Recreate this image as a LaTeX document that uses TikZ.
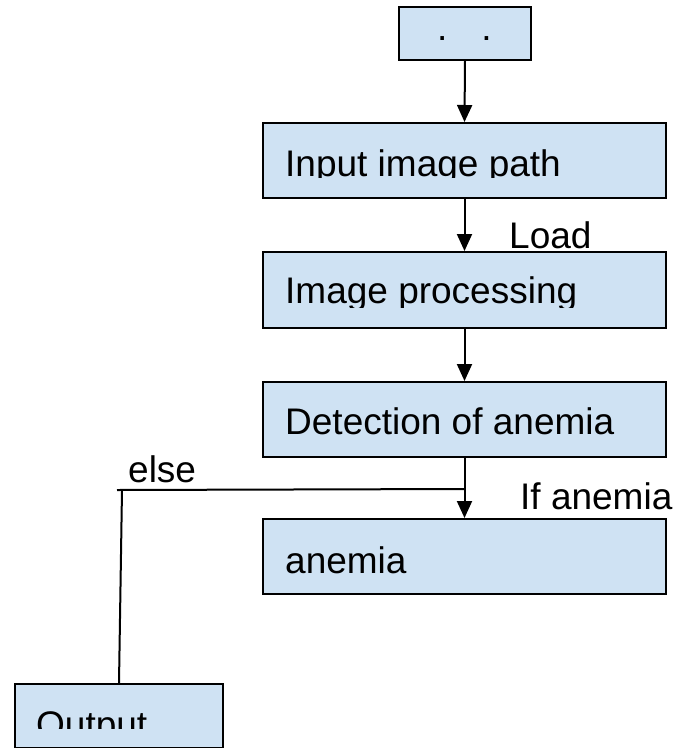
\documentclass[tikz,border=0pt]{standalone}
\usepackage{fontspec}
\setmainfont{Liberation Sans}
\usepackage{tikz}
\usetikzlibrary{arrows.meta}
\definecolor{boxblue}{RGB}{207,226,243}

\tikzset{
  stage/.style={rectangle, draw=black, line width=2pt, fill=boxblue, inner sep=0pt,
    anchor=north west, minimum width=403pt, minimum height=75pt},
  caption/.style={anchor=base west, inner sep=0pt, font=\fontsize{37}{40}\selectfont},
  flow/.style={line width=2pt, -{Triangle[length=17pt,width=15pt]}},
  wire/.style={line width=2pt}
}

\begin{document}
\begin{tikzpicture}[x=1pt, y=-1pt]
\useasboundingbox (0,0) rectangle (683,748);

% boxes of the pipeline
\node[stage, minimum width=132pt, minimum height=53pt] (start) at (398,6) {};
\node[stage] (input) at (262,122) {};
\node[stage, minimum height=76pt] (proc) at (262,251) {};
\node[stage] (detect) at (262,381) {};
\node[stage] (anemia) at (262,518) {};
\node[stage, minimum width=208pt, minimum height=64pt] (output) at (14,683) {};

% box texts (some are cut at the bottom)
\node[caption] (startdots) at (437,40) {.\hspace{34pt}.};
\begin{scope}
  \clip (0,0) rectangle (683,177.5);
  \node[caption] (inputtxt) at (285,176) {Input image path};
\end{scope}
\begin{scope}
  \clip (0,0) rectangle (683,307);
  \node[caption] (proctxt) at (285,303) {Image processing};
\end{scope}
\node[caption] (detecttxt) at (285,434) {Detection of anemia};
\node[caption] (anemiatxt) at (285,573) {anemia};
\begin{scope}
  \clip (0,0) rectangle (683,728);
  \node[caption] (outputtxt) at (36,737) {Output};
\end{scope}

% connectors
\draw[flow] (start.south) -- (input.north);
\draw[flow] (input.south) -- (proc.north);
\draw[flow] (proc.south) -- (detect.north);
\draw[flow] (detect.south) -- (anemia.north);
\path (detect.south) ++(0,31) coordinate (split);
\coordinate (elseend) at (117,490);
\coordinate (elsedrop) at (122,490);
\draw[wire] (split) -- (elseend);
\draw[wire] (elsedrop) -- (output.north);

% branch labels
\node[caption] (loadlbl) at (509,248) {Load};
\node[caption] (elselbl) at (128,482) {else};
\node[caption] (iflbl) at (520,509) {If anemia};
\end{tikzpicture}
\end{document}
